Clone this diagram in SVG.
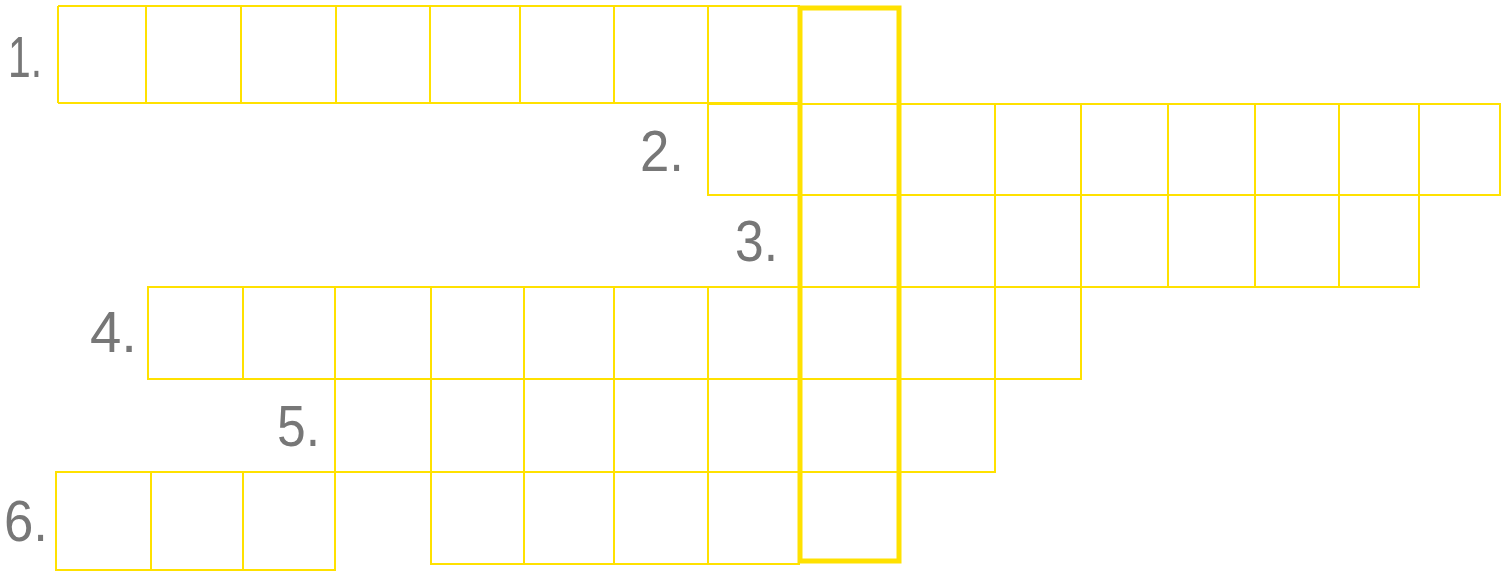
<svg xmlns="http://www.w3.org/2000/svg" width="1510" height="574" viewBox="0 0 1510 574">
<style>
.c{fill:none;stroke:#FFE100;stroke-width:2}
.k{fill:none;stroke:#FFE100;stroke-width:5}
.n{font-family:"Liberation Sans",Arial,sans-serif;font-size:58px;fill:#777777;text-anchor:start}
</style>
<rect width="1510" height="574" fill="#ffffff"/>
<g id="row1">
<polyline class="c" points="58,6 800,6"/>
<polyline class="c" points="58,103 800,103"/>
<path class="c" d="M58,6V103M146,6V103M241,6V103M336,6V103M430,6V103M520,6V103M614,6V103M708,6V103"/>
<text class="n" x="8" y="77" textLength="34" lengthAdjust="spacingAndGlyphs">1.</text>
</g>
<g id="row2">
<path class="c" d="M708,104H1500V195H708ZM708,104V195M995,104V195M1081,104V195M1168,104V195M1255,104V195M1339,104V195M1419,104V195"/>
<text class="n" x="640" y="171" textLength="44" lengthAdjust="spacingAndGlyphs">2.</text>
</g>
<g id="row3">
<path class="c" d="M899,287H1419V195M995,195V287M1081,195V287M1168,195V287M1255,195V287M1339,195V287"/>
<text class="n" x="735" y="261" textLength="43" lengthAdjust="spacingAndGlyphs">3.</text>
</g>
<g id="row4">
<path class="c" d="M148,287H1081V379H148ZM243,287V379M335,287V379M431,287V379M524,287V379M614,287V379M708,287V379M995,287V379"/>
<text class="n" x="90" y="352" textLength="47" lengthAdjust="spacingAndGlyphs">4.</text>
</g>
<g id="row5">
<path class="c" d="M335,379V472H995V379M431,379V472M524,379V472M614,379V472M708,379V472"/>
<text class="n" x="277" y="446" textLength="43" lengthAdjust="spacingAndGlyphs">5.</text>
</g>
<g id="row6">
<path class="c" d="M56,472H335V570H56ZM151,472V570M243,472V570"/>
<path class="c" d="M431,472V564H800M524,472V564M614,472V564M708,472V564"/>
<text class="n" x="4" y="541" textLength="44" lengthAdjust="spacingAndGlyphs">6.</text>
</g>
<g id="column">
<rect class="k" x="800" y="8" width="99" height="553"/>
<path class="c" d="M800,104H899M800,195H899M800,287H899M800,379H899M800,472H899"/>
</g>
</svg>
